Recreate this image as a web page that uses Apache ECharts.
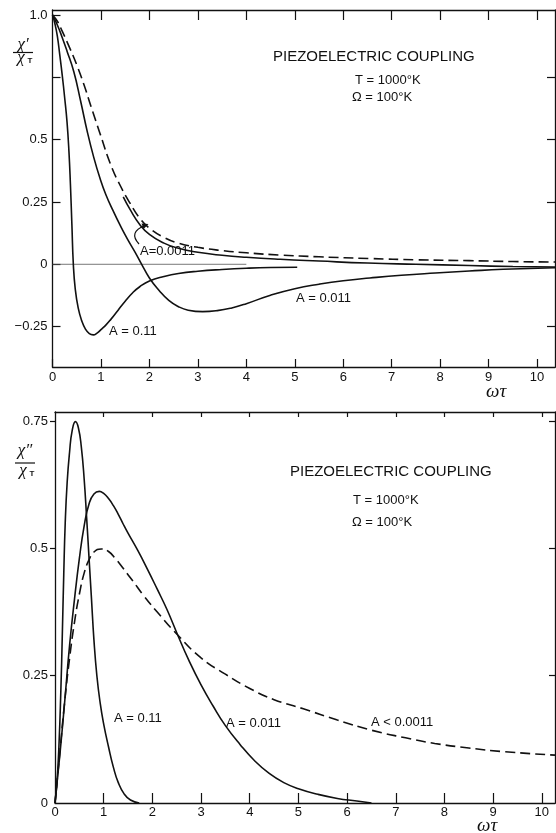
<!DOCTYPE html>
<html>
<head>
<meta charset="utf-8">
<script src="https://cdn.jsdelivr.net/npm/echarts@6/dist/echarts.min.js"></script>
<style>
html,body{margin:0;padding:0;background:#fff;}
#c{width:556px;height:833px;}
</style>
</head>
<body>
<div id="c"></div>
<script>
// ---------- DATA ----------
const xTickValues = [0,1,2,3,4,5,6,7,8,9,10];
const topYTicks = [-0.25,0,0.25,0.5,0.75,1.0];
const topYLabels = [-0.25,0,0.25,0.5,1.0];
const botYTicks = [0,0.25,0.5,0.75];

// chi' / chi_T  (upper panel)
const chiP_A0_11 = [[0,1],[0.05,0.965],[0.1,0.915],[0.15,0.84],[0.2,0.76],[0.25,0.67],[0.3,0.57],[0.34,0.45],[0.37,0.32],[0.4,0.16],[0.43,0.0],[0.47,-0.1],[0.53,-0.175],[0.6,-0.225],[0.68,-0.26],[0.76,-0.278],[0.84,-0.283],[0.92,-0.276],[1.0,-0.262],[1.1,-0.244],[1.2,-0.222],[1.35,-0.185],[1.5,-0.148],[1.65,-0.115],[1.8,-0.09],[2.0,-0.067],[2.3,-0.049],[2.6,-0.037],[3.0,-0.028],[3.5,-0.021],[4.0,-0.016],[4.5,-0.013],[5.05,-0.012]];
const chiP_A0_011 = [[0,1],[0.1,0.96],[0.2,0.91],[0.3,0.855],[0.44,0.772],[0.58,0.655],[0.72,0.53],[0.85,0.43],[0.98,0.345],[1.1,0.28],[1.25,0.215],[1.4,0.155],[1.55,0.1],[1.7,0.05],[1.84,0.0],[2.0,-0.055],[2.2,-0.105],[2.4,-0.145],[2.6,-0.17],[2.8,-0.184],[3.1,-0.19],[3.4,-0.186],[3.7,-0.175],[4.0,-0.158],[4.5,-0.124],[5.0,-0.098],[5.5,-0.08],[6.0,-0.066],[6.55,-0.055],[7.2,-0.044],[7.9,-0.035],[8.6,-0.027],[9.3,-0.02],[10.37,-0.014]];
const chiP_A0_0011 = [[1.46,0.27],[1.6,0.22],[1.8,0.16],[2.0,0.12],[2.3,0.085],[2.6,0.064],[3.0,0.048],[3.5,0.036],[4.0,0.028],[4.7,0.02],[5.5,0.013],[6.5,0.005],[7.5,0.0],[8.6,-0.005],[9.5,-0.009],[10.37,-0.011]];
const chiP_Alow = [[0,1],[0.1,0.975],[0.2,0.935],[0.35,0.87],[0.5,0.8],[0.65,0.72],[0.8,0.63],[0.98,0.525],[1.2,0.4],[1.4,0.315],[1.6,0.245],[1.8,0.185],[2.0,0.145],[2.3,0.108],[2.6,0.085],[3.0,0.068],[3.5,0.055],[4.0,0.046],[4.7,0.037],[5.5,0.03],[6.55,0.023],[7.5,0.018],[8.6,0.0145],[9.5,0.011],[10.37,0.009]];
const zeroRef = [[0,0],[4,0]];

// chi'' / chi_T  (lower panel)
const chiPP_A0_11 = [[0,0],[0.04,0.04],[0.08,0.11],[0.12,0.22],[0.15,0.33],[0.18,0.45],[0.21,0.55],[0.25,0.63],[0.3,0.69],[0.35,0.73],[0.42,0.749],[0.48,0.737],[0.54,0.7],[0.6,0.635],[0.65,0.56],[0.7,0.48],[0.75,0.4],[0.8,0.32],[0.86,0.25],[0.93,0.195],[1.0,0.155],[1.1,0.11],[1.2,0.07],[1.3,0.04],[1.42,0.018],[1.55,0.006],[1.73,0]];
const chiPP_A0_011 = [[0,0],[0.1,0.095],[0.2,0.2],[0.3,0.31],[0.4,0.4],[0.5,0.48],[0.6,0.545],[0.7,0.588],[0.8,0.607],[0.91,0.612],[1.0,0.608],[1.1,0.598],[1.2,0.584],[1.3,0.567],[1.4,0.548],[1.5,0.53],[1.7,0.496],[1.9,0.459],[2.1,0.42],[2.3,0.38],[2.52,0.33],[2.75,0.28],[3.0,0.232],[3.25,0.19],[3.5,0.152],[3.8,0.115],[4.1,0.083],[4.4,0.058],[4.7,0.04],[5.0,0.028],[5.4,0.017],[5.8,0.009],[6.2,0.004],[6.5,0.0]];
const chiPP_Alow = [[0,0],[0.1,0.1],[0.2,0.2],[0.3,0.285],[0.4,0.355],[0.5,0.41],[0.6,0.452],[0.7,0.478],[0.8,0.493],[0.95,0.499],[1.1,0.494],[1.25,0.479],[1.4,0.461],[1.6,0.436],[1.8,0.41],[2.1,0.375],[2.52,0.33],[3.0,0.285],[3.5,0.253],[4.0,0.225],[4.5,0.203],[5.1,0.185],[5.8,0.163],[6.5,0.143],[7.2,0.128],[7.8,0.117],[8.5,0.108],[9.2,0.101],[10.27,0.094]];

// ---------- CHART ----------
const FONT = 'Liberation Sans';
const SERIF = 'Liberation Serif';
const INK = '#111';

const chart = echarts.init(document.getElementById('c'), null, {renderer:'canvas'});

function fmtTop(v){
  if (Math.abs(v-1) < 1e-9) return '1.0';
  if (Math.abs(v) < 1e-9) return '0';
  if (v < 0) return '\u22120.25';
  return String(v);
}
function fmtBot(v){
  if (Math.abs(v) < 1e-9) return '0';
  return String(v);
}

const axisLineStyle = {show:true, onZero:false, lineStyle:{color:INK, width:1.3}};
const lab = {color:INK, fontFamily:FONT, fontSize:13};

function line(data, xi, yi, dashed, width){
  return {
    type:'line', data:data, xAxisIndex:xi, yAxisIndex:yi,
    showSymbol:false, symbol:'none', smooth:0.5,
    lineStyle:{color:INK, width:width||1.6, type: dashed ? [10,5] : 'solid'},
    silent:true, z:3
  };
}

const option = {
  animation:false,
  backgroundColor:'#fff',
  grid:[
    {left:52.5, top:10, width:502.5, height:357},
    {left:55, top:412, width:500, height:391}
  ],
  xAxis:[
    {gridIndex:0, type:'value', position:'bottom', min:0, max:10.37,
     axisLine:axisLineStyle, splitLine:{show:false},
     axisTick:{show:true, inside:true, length:8, customValues:xTickValues, lineStyle:{color:INK,width:1.2}},
     axisLabel:Object.assign({show:true, margin:4, customValues:xTickValues}, lab)},
    {gridIndex:0, type:'value', position:'top', min:0, max:10.37,
     axisLine:axisLineStyle, splitLine:{show:false},
     axisTick:{show:true, inside:true, length:10, customValues:xTickValues.slice(1), lineStyle:{color:INK,width:1.2}},
     axisLabel:{show:false}},
    {gridIndex:1, type:'value', position:'bottom', min:0, max:10.27,
     axisLine:axisLineStyle, splitLine:{show:false},
     axisTick:{show:true, inside:true, length:10, customValues:xTickValues.slice(1), lineStyle:{color:INK,width:1.2}},
     axisLabel:Object.assign({show:true, margin:3, customValues:xTickValues}, lab)},
    {gridIndex:1, type:'value', position:'top', min:0, max:10.27,
     axisLine:axisLineStyle, splitLine:{show:false},
     axisTick:{show:true, inside:true, length:5, customValues:xTickValues.slice(1), lineStyle:{color:INK,width:1.2}},
     axisLabel:{show:false}}
  ],
  yAxis:[
    {gridIndex:0, type:'value', position:'left', min:-0.412, max:1.02,
     axisLine:axisLineStyle, splitLine:{show:false},
     axisTick:{show:true, inside:true, length:8, customValues:topYTicks, lineStyle:{color:INK,width:1.2}},
     axisLabel:Object.assign({show:true, margin:5, customValues:topYLabels, formatter:fmtTop}, lab)},
    {gridIndex:0, type:'value', position:'right', min:-0.412, max:1.02,
     axisLine:axisLineStyle, splitLine:{show:false},
     axisTick:{show:true, inside:true, length:8, customValues:topYTicks.filter(v=>v!==0 && v!==1), lineStyle:{color:INK,width:1.2}},
     axisLabel:{show:false}},
    {gridIndex:1, type:'value', position:'left', min:0, max:0.768,
     axisLine:axisLineStyle, splitLine:{show:false},
     axisTick:{show:true, inside:false, length:5, customValues:botYTicks.slice(1), lineStyle:{color:INK,width:1.2}},
     axisLabel:Object.assign({show:true, margin:7, customValues:botYTicks, formatter:fmtBot}, lab)},
    {gridIndex:1, type:'value', position:'right', min:0, max:0.768,
     axisLine:axisLineStyle, splitLine:{show:false},
     axisTick:{show:true, inside:true, length:6, customValues:botYTicks.slice(1), lineStyle:{color:INK,width:1.2}},
     axisLabel:{show:false}}
  ],
  series:[
    Object.assign(line(zeroRef,0,0,false,0.8), {lineStyle:{color:'#555', width:0.8}, smooth:false}),
    line(chiP_A0_11,0,0,false),
    line(chiP_A0_011,0,0,false),
    line(chiP_A0_0011,0,0,false),
    line(chiP_Alow,0,0,true),
    line(chiPP_A0_11,2,2,false),
    line(chiPP_A0_011,2,2,false),
    line(chiPP_Alow,2,2,true)
  ]
};
chart.setOption(option);

// ---------- ANNOTATIONS ----------
function txt(s, x, y, size, opts){
  opts = opts || {};
  return {type:'text', x:x, y:y, z:10, silent:true,
    style:{text:s, fill:INK, font:(opts.style||'normal')+' '+size+'px "'+(opts.family||FONT)+'"',
           textAlign:opts.align||'left', textVerticalAlign:'middle'}};
}
function fraction(top, cx, yTop, yLine, yBot){
  return [
    txt(top, cx, yTop, 17, {family:SERIF, style:'italic', align:'center'}),
    {type:'line', z:10, silent:true, shape:{x1:cx-10, y1:yLine, x2:cx+10, y2:yLine}, style:{stroke:INK, lineWidth:1.2}},
    txt('\u03C7', cx-2, yBot, 17, {family:SERIF, style:'italic', align:'center'}),
    txt('T', cx+7, yBot+3, 8, {family:FONT, style:'bold', align:'center'})
  ];
}

const graphics = [].concat(
  // upper panel
  [
    txt('PIEZOELECTRIC COUPLING', 273, 57, 15),
    txt('T = 1000\u00B0K', 355, 80, 13),
    txt('\u03A9 = 100\u00B0K', 352, 97, 13),
    txt('A=0.0011', 140, 251, 13),
    txt('A = 0.11', 109, 331, 13),
    txt('A = 0.011', 296, 298, 13),
    txt('\u03C9\u03C4', 486, 392, 19, {family:SERIF, style:'italic'}),
    {type:'bezierCurve', z:10, silent:true,
     shape:{x1:139, y1:244, cpx1:128, cpy1:232, x2:145, y2:225.5},
     style:{stroke:INK, lineWidth:1.2, fill:null}},
    {type:'polygon', z:10, silent:true,
     shape:{points:[[148.5,224],[141.5,223.6],[143.6,229]]},
     style:{fill:INK}}
  ],
  fraction('\u03C7\u2032', 23, 45, 52.5, 58),
  // lower panel
  [
    txt('PIEZOELECTRIC COUPLING', 290, 472, 15),
    txt('T = 1000\u00B0K', 353, 500, 13),
    txt('\u03A9 = 100\u00B0K', 352, 522, 13),
    txt('A = 0.11', 114, 718, 13),
    txt('A = 0.011', 226, 723, 13),
    txt('A < 0.0011', 371, 722, 13),
    txt('\u03C9\u03C4', 477, 826, 19, {family:SERIF, style:'italic'})
  ],
  fraction('\u03C7\u2033', 25, 451, 463, 471)
);
chart.setOption({graphic:graphics});
</script>
</body>
</html>
